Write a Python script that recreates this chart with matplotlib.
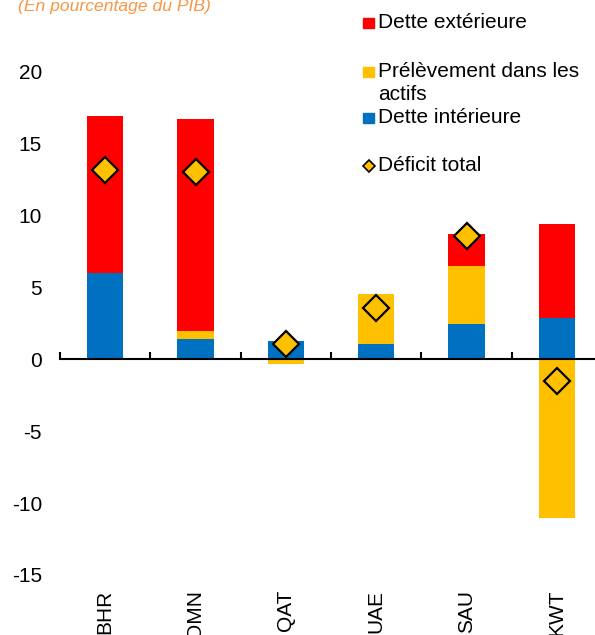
import matplotlib

matplotlib.use("Agg")
import matplotlib.pyplot as plt
import numpy as np
from matplotlib.lines import Line2D
from matplotlib.patches import Rectangle
from matplotlib.transforms import blended_transform_factory

# data (% of GDP) ----------------------------------------------------------
countries = ["BHR", "OMN", "QAT", "UAE", "SAU", "KWT"]
dette_interieure = [6.0, 1.4, 1.3, 1.05, 2.45, 2.85]
prelevement_actifs = [0.0, 0.6, -0.35, 3.5, 4.05, -11.0]
dette_exterieure = [10.9, 14.7, 0.0, 0.0, 2.2, 6.55]
deficit_total = [13.2, 13.0, 1.05, 3.6, 8.6, -1.5]

RED = "#FF0000"
YELLOW = "#FFC000"
BLUE = "#0070C0"
TITLE_C = "#F79646"

plt.rcParams["font.family"] = ["Liberation Sans", "DejaVu Sans"]
plt.rcParams["axes.unicode_minus"] = False

FS = 15

fig = plt.figure(figsize=(5.95, 6.35), dpi=100)
ax = fig.add_axes([60 / 595, 1 - 575 / 635, 542 / 595, 575 / 635])

x = np.arange(len(countries))
w = 0.4
blue = np.array(dette_interieure)
yel = np.array(prelevement_actifs)
red = np.array(dette_exterieure)

# positive parts stack upward from 0, negative parts downward
pos_base = np.zeros(len(x))
neg_base = np.zeros(len(x))
for vals, col in [(blue, BLUE), (yel, YELLOW), (red, RED)]:
    base = np.where(vals >= 0, pos_base, neg_base)
    ax.bar(x, vals, w, bottom=base, color=col, edgecolor="none", zorder=2)
    pos_base = pos_base + np.clip(vals, 0, None)
    neg_base = neg_base + np.clip(vals, None, 0)

ax.plot(x, deficit_total, "D", ms=13.5, mfc=YELLOW, mec="black", mew=1.6,
        ls="none", zorder=3)

ax.set_xlim(-0.5, 5.5)
ax.set_ylim(-15, 25)
ax.set_yticks([-15, -10, -5, 0, 5, 10, 15, 20])
ax.tick_params(axis="y", length=0, pad=13, labelsize=FS)
for s in ("top", "right", "left"):
    ax.spines[s].set_visible(False)
ax.spines["bottom"].set_position(("data", 0))
ax.spines["bottom"].set_linewidth(1.5)
ax.set_xticks(np.arange(-0.5, 6.0, 1.0))
ax.tick_params(axis="x", direction="in", length=5, width=1.5, labelbottom=False)

tr = blended_transform_factory(ax.transData, ax.transAxes)
for i, c in enumerate(countries):
    ax.text(i, -0.026, c, transform=tr, rotation=90, ha="center", va="top",
            fontsize=FS)

fig.text(18 / 595, 1 - 11 / 635, "(En pourcentage du PIB)", color=TITLE_C,
         fontsize=12.6, style="italic", ha="left", va="baseline")

# legend, drawn by hand to keep the uneven spacing -------------------------
# (marker, colour, label, baseline of first line in px from top)
legend_items = [
    ("sq", RED, "Dette extérieure", 28),
    ("sq", YELLOW, "Prélèvement dans les\nactifs", 77),
    ("sq", BLUE, "Dette intérieure", 123),
    ("D", YELLOW, "Déficit total", 171),
]
for kind, col, label, ypx in legend_items:
    yb = 1 - ypx / 635
    if kind == "sq":
        fig.patches.append(Rectangle((363 / 595, yb), 11 / 595, 10 / 635,
                                     transform=fig.transFigure, color=col))
    else:
        fig.lines.append(Line2D([368.5 / 595], [yb + 5.5 / 635], marker="D", ms=6.5,
                                mfc=col, mec="black", mew=1.2,
                                transform=fig.transFigure))
    for k, line in enumerate(label.split("\n")):
        fig.text(378 / 595, yb - k * 23 / 635, line, fontsize=FS, ha="left",
                 va="baseline")

fig.savefig("out.png", dpi=100, facecolor="white")
